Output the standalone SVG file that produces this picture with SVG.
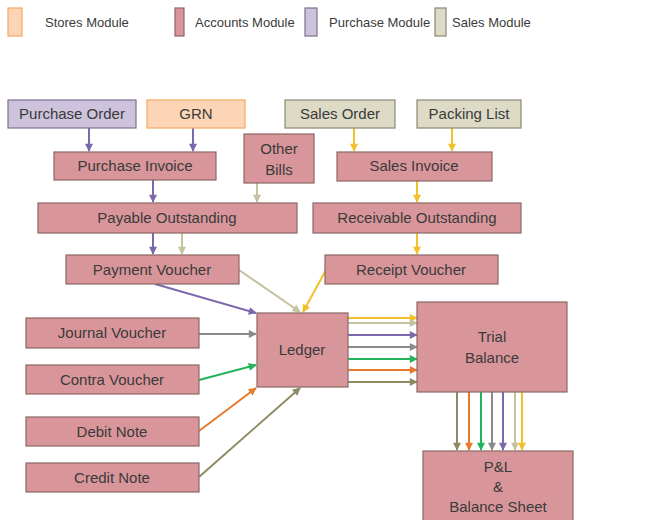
<svg xmlns="http://www.w3.org/2000/svg" width="646" height="520" viewBox="0 0 646 520">
  <style>
    text { font-family: "Liberation Sans", Arial, sans-serif; fill: #3a3a3a; text-anchor: middle; }
    .lg { font-size: 13px; text-anchor: start; }
    .t { font-size: 15px; }
    .acc { fill: #d9969a; stroke: #8a6666; stroke-width: 1.2; }
    .pur { fill: #cdc3dc; stroke: #7d7090; stroke-width: 1.2; }
    .sal { fill: #dddac6; stroke: #8a8872; stroke-width: 1.2; }
    .sto { fill: #fcd5b6; stroke: #f2a860; stroke-width: 1.2; }
    .c line { stroke-width: 2; fill: none; }
    .p { stroke: #7d67ad; }
    .n { stroke: #c6c2a0; }
    .y { stroke: #f2c02a; }
    .g { stroke: #8a8a8a; }
    .gr { stroke: #22b35c; }
    .o { stroke: #e87a2c; }
    .ol { stroke: #8f8b60; }
  </style>
  <defs>
    <marker id="ap" viewBox="0 0 10 10" refX="9" refY="5" markerWidth="9" markerHeight="8" markerUnits="userSpaceOnUse" orient="auto"><path d="M0,0 L10,5 L0,10 z" fill="#7d67ad"/></marker>
    <marker id="an" viewBox="0 0 10 10" refX="9" refY="5" markerWidth="9" markerHeight="8" markerUnits="userSpaceOnUse" orient="auto"><path d="M0,0 L10,5 L0,10 z" fill="#c6c2a0"/></marker>
    <marker id="ay" viewBox="0 0 10 10" refX="9" refY="5" markerWidth="9" markerHeight="8" markerUnits="userSpaceOnUse" orient="auto"><path d="M0,0 L10,5 L0,10 z" fill="#f2c02a"/></marker>
    <marker id="ag" viewBox="0 0 10 10" refX="9" refY="5" markerWidth="9" markerHeight="8" markerUnits="userSpaceOnUse" orient="auto"><path d="M0,0 L10,5 L0,10 z" fill="#8a8a8a"/></marker>
    <marker id="agr" viewBox="0 0 10 10" refX="9" refY="5" markerWidth="9" markerHeight="8" markerUnits="userSpaceOnUse" orient="auto"><path d="M0,0 L10,5 L0,10 z" fill="#22b35c"/></marker>
    <marker id="ao" viewBox="0 0 10 10" refX="9" refY="5" markerWidth="9" markerHeight="8" markerUnits="userSpaceOnUse" orient="auto"><path d="M0,0 L10,5 L0,10 z" fill="#e87a2c"/></marker>
    <marker id="aol" viewBox="0 0 10 10" refX="9" refY="5" markerWidth="9" markerHeight="8" markerUnits="userSpaceOnUse" orient="auto"><path d="M0,0 L10,5 L0,10 z" fill="#8f8b60"/></marker>
  </defs>

  <rect width="646" height="520" fill="#ffffff"/>

  <!-- legend -->
  <g id="legend">
    <rect class="sto" x="8" y="8" width="14" height="28"/>
    <text class="lg" x="45" y="27">Stores Module</text>
    <rect class="acc" x="175" y="8" width="9" height="28"/>
    <text class="lg" x="195" y="27">Accounts Module</text>
    <rect class="pur" x="305" y="8" width="12" height="28"/>
    <text class="lg" x="329" y="27">Purchase Module</text>
    <rect class="sal" x="435" y="8" width="11" height="28"/>
    <text class="lg" x="452" y="27">Sales Module</text>
  </g>

  <!-- connectors -->
  <g id="connectors" class="c">
    <!-- purchase side -->
    <line class="p" x1="89" y1="128" x2="89" y2="151" marker-end="url(#ap)"/>
    <line class="p" x1="193" y1="128" x2="193" y2="151" marker-end="url(#ap)"/>
    <line class="p" x1="153" y1="180" x2="153" y2="202" marker-end="url(#ap)"/>
    <line class="n" x1="257" y1="183" x2="257" y2="202" marker-end="url(#an)"/>
    <line class="p" x1="153" y1="233" x2="153" y2="254" marker-end="url(#ap)"/>
    <line class="n" x1="182" y1="233" x2="182" y2="254" marker-end="url(#an)"/>
    <!-- sales side -->
    <line class="y" x1="354" y1="128" x2="354" y2="151" marker-end="url(#ay)"/>
    <line class="y" x1="452" y1="128" x2="452" y2="151" marker-end="url(#ay)"/>
    <line class="y" x1="417" y1="181" x2="417" y2="202" marker-end="url(#ay)"/>
    <line class="y" x1="417" y1="233" x2="417" y2="254" marker-end="url(#ay)"/>
    <!-- into ledger -->
    <line class="p" x1="155" y1="284" x2="256" y2="313" marker-end="url(#ap)"/>
    <line class="n" x1="239" y1="270" x2="300" y2="312" marker-end="url(#an)"/>
    <line class="y" x1="326" y1="270" x2="303" y2="312" marker-end="url(#ay)"/>
    <line class="g" x1="199" y1="334" x2="256" y2="334" marker-end="url(#ag)"/>
    <line class="gr" x1="199" y1="380" x2="256" y2="365" marker-end="url(#agr)"/>
    <line class="o" x1="199" y1="431" x2="256" y2="388" marker-end="url(#ao)"/>
    <line class="ol" x1="199" y1="477" x2="300" y2="388" marker-end="url(#aol)"/>
    <!-- ledger to trial balance -->
    <line class="y" x1="348" y1="318" x2="417" y2="318" marker-end="url(#ay)"/>
    <line class="n" x1="348" y1="323" x2="417" y2="323" marker-end="url(#an)"/>
    <line class="p" x1="348" y1="335" x2="417" y2="335" marker-end="url(#ap)"/>
    <line class="g" x1="348" y1="347" x2="417" y2="347" marker-end="url(#ag)"/>
    <line class="gr" x1="348" y1="359" x2="417" y2="359" marker-end="url(#agr)"/>
    <line class="o" x1="348" y1="370" x2="417" y2="370" marker-end="url(#ao)"/>
    <line class="ol" x1="348" y1="382" x2="417" y2="382" marker-end="url(#aol)"/>
    <!-- trial balance to P&L -->
    <line class="ol" x1="457" y1="392" x2="457" y2="450" marker-end="url(#aol)"/>
    <line class="o" x1="469" y1="392" x2="469" y2="450" marker-end="url(#ao)"/>
    <line class="gr" x1="481" y1="392" x2="481" y2="450" marker-end="url(#agr)"/>
    <line class="g" x1="492" y1="392" x2="492" y2="450" marker-end="url(#ag)"/>
    <line class="p" x1="503" y1="392" x2="503" y2="450" marker-end="url(#ap)"/>
    <line class="n" x1="515" y1="392" x2="515" y2="450" marker-end="url(#an)"/>
    <line class="y" x1="522" y1="392" x2="522" y2="450" marker-end="url(#ay)"/>
  </g>

  <!-- nodes -->
  <g id="purchase-order"><rect class="pur" x="8" y="100" width="128" height="28"/><text class="t" x="72" y="119">Purchase Order</text></g>
  <g id="grn"><rect class="sto" x="147" y="100" width="98" height="28"/><text class="t" x="196" y="119">GRN</text></g>
  <g id="sales-order"><rect class="sal" x="285" y="100" width="110" height="28"/><text class="t" x="340" y="119">Sales Order</text></g>
  <g id="packing-list"><rect class="sal" x="417" y="100" width="104" height="28"/><text class="t" x="469" y="119">Packing List</text></g>
  <g id="purchase-invoice"><rect class="acc" x="54" y="152" width="162" height="28"/><text class="t" x="135" y="171">Purchase Invoice</text></g>
  <g id="other-bills"><rect class="acc" x="244" y="134" width="70" height="49"/><text class="t" x="279" y="154">Other</text><text class="t" x="279" y="175">Bills</text></g>
  <g id="sales-invoice"><rect class="acc" x="337" y="152" width="155" height="29"/><text class="t" x="414" y="171">Sales Invoice</text></g>
  <g id="payable-outstanding"><rect class="acc" x="38" y="203" width="259" height="30"/><text class="t" x="167" y="223">Payable Outstanding</text></g>
  <g id="receivable-outstanding"><rect class="acc" x="313" y="203" width="208" height="30"/><text class="t" x="417" y="223">Receivable Outstanding</text></g>
  <g id="payment-voucher"><rect class="acc" x="66" y="255" width="173" height="29"/><text class="t" x="152" y="275">Payment Voucher</text></g>
  <g id="receipt-voucher"><rect class="acc" x="325" y="255" width="173" height="29"/><text class="t" x="411" y="275">Receipt Voucher</text></g>
  <g id="journal-voucher"><rect class="acc" x="26" y="318" width="173" height="30"/><text class="t" x="112" y="338">Journal Voucher</text></g>
  <g id="contra-voucher"><rect class="acc" x="26" y="365" width="173" height="29"/><text class="t" x="112" y="385">Contra Voucher</text></g>
  <g id="debit-note"><rect class="acc" x="26" y="417" width="173" height="29"/><text class="t" x="112" y="437">Debit Note</text></g>
  <g id="credit-note"><rect class="acc" x="26" y="463" width="173" height="29"/><text class="t" x="112" y="483">Credit Note</text></g>
  <g id="ledger"><rect class="acc" x="257" y="313" width="91" height="74"/><text class="t" x="302" y="355">Ledger</text></g>
  <g id="trial-balance"><rect class="acc" x="417" y="302" width="150" height="90"/><text class="t" x="492" y="342">Trial</text><text class="t" x="492" y="363">Balance</text></g>
  <g id="pl-balance-sheet"><rect class="acc" x="423" y="451" width="150" height="75"/><text class="t" x="498" y="472">P&amp;L</text><text class="t" x="498" y="492">&amp;</text><text class="t" x="498" y="512">Balance Sheet</text></g>
</svg>
